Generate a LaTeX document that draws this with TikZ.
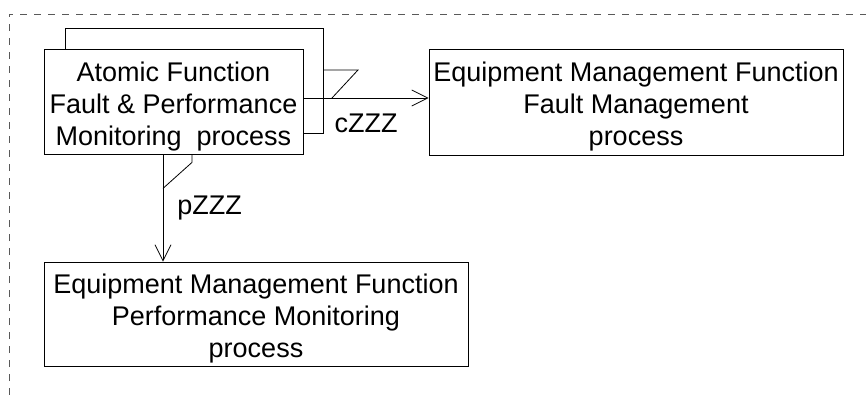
\documentclass[tikz,border=0pt]{standalone}
\usepackage{fontspec}
\setmainfont{Liberation Sans}
\usetikzlibrary{arrows.meta,calc,positioning}

\tikzset{
  procbox/.style={draw,line width=0.8pt,inner sep=0pt},
  proctext/.style={align=center,inner sep=0pt,font=\fontsize{27}{32}\selectfont},
  flow/.style={line width=0.8pt,-{Straight Barb[length=16pt,width=16pt,line width=0.8pt]}},
  flag/.style={line width=0.8pt},
  lbl/.style={font=\fontsize{27}{32}\selectfont,inner sep=2pt},
  frame/.style={gray!70!black,line width=0.8pt,dash pattern=on 7pt off 7pt}
}

\begin{document}
\begin{tikzpicture}[x=1pt,y=-1pt]
  \useasboundingbox (0,0) rectangle (866,395);
  % outer boundary
  \draw[frame] (9,395) -- (9,14) -- (866,14);

  % stacked copy behind the atomic function
  \draw[flag] (65,49) -- (65,28) -- (323,28) -- (323,133) -- (303,133);

  \node[procbox,minimum width=259pt,minimum height=105pt] (afproc) at (173.5,101.5) {};
  \node[procbox,minimum width=414pt,minimum height=106pt] (emfm) at (636,102) {};
  \node[procbox,minimum width=424pt,minimum height=104pt] (empm) at (256,314) {};

  \node[proctext] (afproc-txt) at ([yshift=-5pt]afproc)
    {Atomic Function\\Fault \& Performance\\Monitoring\ \ process};
  \node[proctext] (emfm-txt) at ([yshift=-5pt]emfm)
    {Equipment Management Function\\Fault Management\\process};
  \node[proctext] (empm-txt) at ([yshift=-5pt]empm)
    {Equipment Management Function\\Performance Monitoring\\process};

  % fault path
  \draw[flow] ([yshift=3.5pt]afproc.east) -- ([yshift=4pt]emfm.west)
    node[lbl,midway,below=14pt] {cZZZ};
  \draw[flag] (323,70) -- (358,70) -- (332,98);

  % performance path
  \draw[flow] ([xshift=-10.5pt]afproc.south) coordinate (pm) -- (pm |- empm.north)
    node[lbl,midway,right=12pt] {pZZZ};
  \draw[flag] ($(pm)+(29,0)$) -- ++(0,8) -- ($(pm)+(0,34)$);
\end{tikzpicture}
\end{document}
